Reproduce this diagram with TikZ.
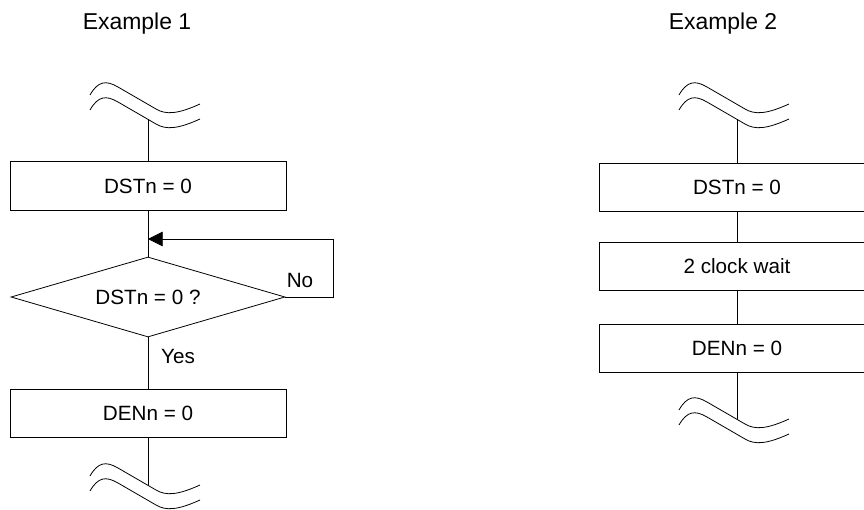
\documentclass[tikz,border=0pt]{standalone}
\usepackage{fontspec}
\setmainfont{Liberation Sans}
\usetikzlibrary{shapes.geometric,arrows.meta}
\newcommand\boxfont{\fontsize{15.5}{18}\selectfont}
\newcommand\titlefont{\fontsize{17.2}{20}\selectfont}
\tikzset{
  flow/.style={line width=0.6pt},
  stepbox/.style={draw, flow, rectangle, minimum width=207pt, minimum height=36.5pt, inner sep=0pt, font=\boxfont},
  testbox/.style={draw, flow, diamond, aspect=3.425, minimum width=205.5pt, minimum height=60pt, inner sep=0pt, font=\boxfont},
  % break mark: two wavy lines, origin at the line, top of the upper wave
  pics/breakmark/.style={code={
    \draw[flow] (-58,12) .. controls (-50,-2) and (-42,-3) .. (-30,4) -- (8,26)
      .. controls (18,32) and (30,31) .. (52,21);
    \draw[flow] (-58,27) .. controls (-50,13) and (-42,12) .. (-30,19) -- (8,41)
      .. controls (18,47) and (30,46) .. (52,36);
    \coordinate (-up) at (0,21.4);
    \coordinate (-low) at (0,36.4);
  }}
}
\begin{document}
\begin{tikzpicture}[x=0.75pt, y=-0.75pt]
    % 864 x 510 px page
    \path[use as bounding box, clip] (0,0) rectangle (864,510);

    % Example 1
    \node[font=\titlefont] (ttl1) at (137,24) {Example 1};
    \pic (tb1) at (148,83) {breakmark};
    \node[stepbox] (dst1) at (148,186) {DSTn = 0};
    \coordinate (join1) at (148,239);
    \node[testbox] (dec1) at (148,297) {DSTn = 0 ?};
    \node[stepbox] (den1) at (148,413.5) {DENn = 0};
    \pic (bb1) at (148,464) {breakmark};
    \node[font=\boxfont] (no1) at (300,280) {No};
    \node[font=\boxfont] (yes1) at (178,356) {Yes};

    \draw[flow] (tb1-low) -- (dst1.north);
    \draw[flow] (dst1.south) -- (dec1.north);
    \draw[flow, -{Triangle[length=11pt, width=11pt]}] (dec1.east) -- ++(48,0) |- (join1);
    \draw[flow] (dec1.south) -- (den1.north);
    \draw[flow] (den1.south) -- (bb1-up);

    % Example 2
    \node[font=\titlefont] (ttl2) at (723,24) {Example 2};
    \pic (tb2) at (737,83) {breakmark};
    \node[stepbox] (dst2) at (737,187.5) {DSTn = 0};
    \node[stepbox] (wait2) at (737,266.5) {2 clock wait};
    \node[stepbox] (den2) at (737,348.5) {DENn = 0};
    \pic (bb2) at (737,398) {breakmark};

    \draw[flow] (tb2-low) -- (dst2.north);
    \draw[flow] (dst2.south) -- (wait2.north);
    \draw[flow] (wait2.south) -- (den2.north);
    \draw[flow] (den2.south) -- (bb2-up);

\end{tikzpicture}
\end{document}
